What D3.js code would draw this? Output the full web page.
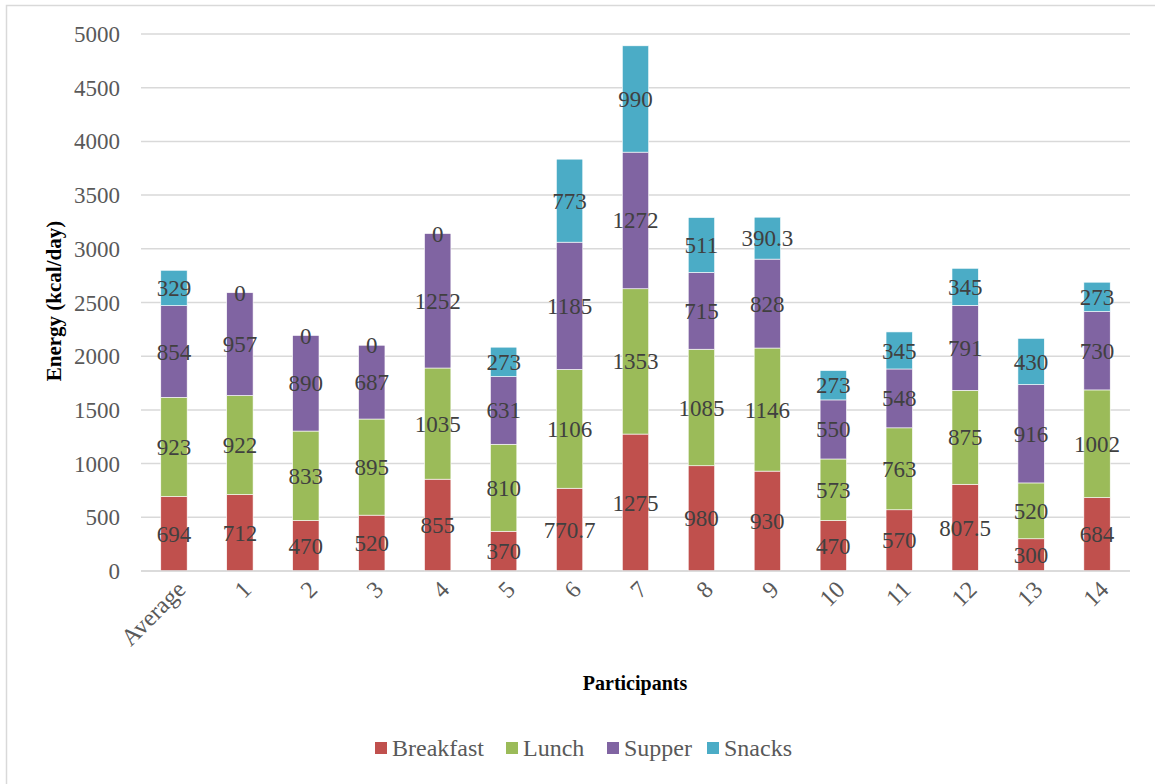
<html>
<script src='https://d3js.org/d3.v7.min.js'></script>
<style>
  body { margin: 0; background: #fff; }
</style>
<body onload='init()'>
<svg width=1155 height=784></svg>
<script>
var participants = ["Average","1","2","3","4","5","6","7","8","9","10","11","12","13","14"];
var breakfast = [694, 712, 470, 520, 855, 370, 770.7, 1275, 980, 930, 470, 570, 807.5, 300, 684];
var lunch     = [923, 922, 833, 895, 1035, 810, 1106, 1353, 1085, 1146, 573, 763, 875, 520, 1002];
var supper    = [854, 957, 890, 687, 1252, 631, 1185, 1272, 715, 828, 550, 548, 791, 916, 730];
var snacks    = [329, 0, 0, 0, 0, 273, 773, 990, 511, 390.3, 273, 345, 345, 430, 273];
var seriesNames = ["Breakfast","Lunch","Supper","Snacks"];
var yTicks = [0,500,1000,1500,2000,2500,3000,3500,4000,4500,5000];

function init() {
  var svg = d3.select("svg");
  var font = "Liberation Serif";
  var colors = ["#C0504D","#9BBB59","#8064A2","#4BACC6"];
  var left = 141, right = 1130, top = 34, bottom = 571;

  // chart frame
  svg.append("rect")
    .attr("x", 6.5).attr("y", 5.5)
    .attr("width", 1200).attr("height", 900)
    .attr("fill", "none").attr("stroke", "#d9d9d9").attr("stroke-width", 1.5);

  var x = d3.scaleBand().domain(participants).range([left, right]).paddingInner(0.6).paddingOuter(0.3);
  var y = d3.scaleLinear().domain([0, 5000]).range([bottom, top]);

  var rows = participants.map(function (p, i) {
    return { name: p, Breakfast: breakfast[i], Lunch: lunch[i], Supper: supper[i], Snacks: snacks[i] };
  });
  var stacked = d3.stack().keys(seriesNames)(rows);

  // gridlines
  svg.append("g").selectAll("line").data(yTicks).enter().append("line")
    .attr("x1", left).attr("x2", right)
    .attr("y1", function (d) { return y(d); }).attr("y2", function (d) { return y(d); })
    .attr("stroke", "#d9d9d9").attr("stroke-width", 1.5);

  // y tick labels
  svg.append("g").selectAll("text").data(yTicks).enter().append("text")
    .attr("x", 120).attr("y", function (d) { return y(d); })
    .attr("dy", "0.35em").attr("text-anchor", "end")
    .attr("font-family", font).attr("font-size", 23).attr("fill", "#595959")
    .text(function (d) { return d; });

  // bars
  var groups = svg.append("g").selectAll("g").data(stacked).enter().append("g")
    .attr("fill", function (d, i) { return colors[i]; });
  groups.selectAll("rect").data(function (d) { return d; }).enter().append("rect")
    .attr("x", function (d) { return x(d.data.name); })
    .attr("width", x.bandwidth())
    .attr("y", function (d) { return y(d[1]); })
    .attr("height", function (d) { return y(d[0]) - y(d[1]); })
    .attr("stroke", "#fff").attr("stroke-width", 0.6);

  // data labels
  var labels = svg.append("g");
  stacked.forEach(function (s) {
    labels.selectAll(null).data(s).enter().append("text")
      .attr("x", function (d) { return x(d.data.name) + x.bandwidth() / 2; })
      .attr("y", function (d) { return y((d[0] + d[1]) / 2); })
      .attr("dy", "0.35em").attr("text-anchor", "middle")
      .attr("font-family", font).attr("font-size", 23).attr("fill", "#404040")
      .text(function (d) { return d.data[s.key]; });
  });

  // x axis line
  svg.append("line").attr("x1", left).attr("x2", right)
    .attr("y1", bottom).attr("y2", bottom)
    .attr("stroke", "#d9d9d9").attr("stroke-width", 1.5);

  // x tick labels
  svg.append("g").selectAll("text").data(participants).enter().append("text")
    .attr("transform", function (d) {
      return "translate(" + (x(d) + x.bandwidth() / 2 + 7) + "," + (bottom + 14) + ") rotate(-45)";
    })
    .attr("text-anchor", "end").attr("dy", "0.35em")
    .attr("font-family", font).attr("font-size", 24).attr("fill", "#595959")
    .text(function (d) { return d; });

  // axis titles
  svg.append("text").attr("x", 635).attr("y", 690)
    .attr("text-anchor", "middle").attr("font-family", font).attr("font-size", 20).attr("font-weight", "bold")
    .attr("fill", "#000").text("Participants");
  svg.append("text").attr("transform", "translate(61,301) rotate(-90)")
    .attr("text-anchor", "middle").attr("font-family", font).attr("font-size", 21).attr("font-weight", "bold")
    .attr("fill", "#000").text("Energy (kcal/day)");

  // legend
  var legX = [375, 506, 607, 707];
  var leg = svg.append("g").selectAll("g").data(seriesNames).enter().append("g")
    .attr("transform", function (d, i) { return "translate(" + legX[i] + ",748)"; });
  leg.append("rect").attr("x", 0).attr("y", -6).attr("width", 12).attr("height", 12)
    .attr("fill", function (d, i) { return colors[i]; });
  leg.append("text").attr("x", 17).attr("dy", "0.35em")
    .attr("font-family", font).attr("font-size", 24).attr("fill", "#595959")
    .text(function (d) { return d; });
}
</script>
</body>
</html>
